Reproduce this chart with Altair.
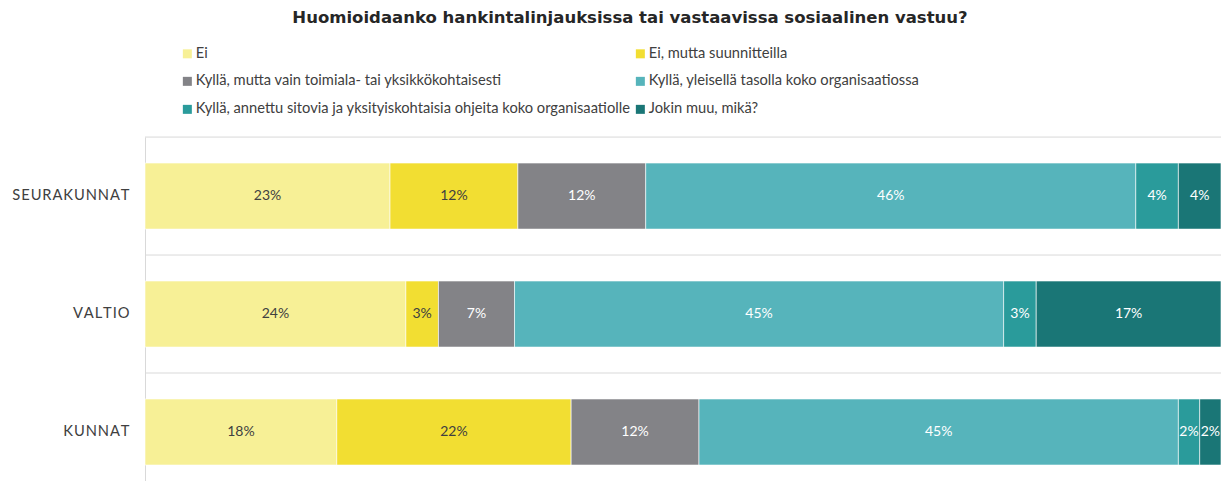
import altair as alt
import pandas as pd

title = "Huomioidaanko hankintalinjauksissa tai vastaavissa sosiaalinen vastuu?"
categories = ["SEURAKUNNAT", "VALTIO", "KUNNAT"]
series = [
    "Ei",
    "Ei, mutta suunnitteilla",
    "Kyllä, mutta vain toimiala- tai yksikkökohtaisesti",
    "Kyllä, yleisellä tasolla koko organisaatiossa",
    "Kyllä, annettu sitovia ja yksityiskohtaisia ohjeita koko organisaatiolle",
    "Jokin muu, mikä?",
]
colors = ["#F7F096", "#F2DE32", "#838387", "#56B4BB", "#2A9B9B", "#1A7676"]
values = {
    "SEURAKUNNAT": [23, 12, 12, 46, 4, 4],
    "VALTIO": [24, 3, 7, 45, 3, 17],
    "KUNNAT": [18, 22, 12, 45, 2, 2],
}

rows = []
for c in categories:
    for i, (s, v) in enumerate(zip(series, values[c])):
        rows.append({"category": c, "series": s, "value": v, "order": i})
df = pd.DataFrame(rows)
cat_df = pd.DataFrame({"category": categories})

# legend fills column-wise; reorder so that entries read row-wise (2 columns)
legend_idx = [0, 2, 4, 1, 3, 5]
legend_domain = [series[i] for i in legend_idx]
legend_range = [colors[i] for i in legend_idx]

W = 1076
H = 344

yscale = alt.Scale(domain=categories, paddingInner=0.44, paddingOuter=0.178, align=0.62)

base = alt.Chart(df).transform_stack(
    stack="value", groupby=["category"], as_=["x0", "x1"],
    sort=[alt.SortField("order")], offset="normalize"
).transform_calculate(
    mid="(datum.x0 + datum.x1) / 2",
    label="datum.value + '%'"
)

yenc = alt.Y(
    "category:N", sort=categories, scale=yscale, title=None,
    axis=alt.Axis(
        ticks=False, grid=False, domainColor="#d9d9d9", domainWidth=1,
        labelFont="Lato", labelFontSize=14.7, labelColor="#404040",
        labelPadding=16,
        labelExpr="join(split(datum.label, ''), '\u200a')",
    ),
)

bars = base.mark_bar(stroke="white", strokeWidth=0.6).encode(
    y=yenc,
    x=alt.X("x0:Q", scale=alt.Scale(domain=[0, 1], nice=False), axis=None),
    x2="x1:Q",
    color=alt.Color(
        "series:N",
        scale=alt.Scale(domain=legend_domain, range=legend_range),
        legend=alt.Legend(
            orient="none", legendX=35, legendY=-91, columns=2, title=None,
            symbolType="square", symbolSize=81, symbolStrokeWidth=0,
            labelFont="Lato", labelFontSize=14.7, labelColor="#404040",
            labelOffset=1, rowPadding=12, columnPadding=2, labelLimit=700,
        ),
    ),
)

texts = base.mark_text(font="Lato", fontSize=14).encode(
    y=alt.Y("category:N", sort=categories, scale=yscale),
    x=alt.X("mid:Q", scale=alt.Scale(domain=[0, 1], nice=False)),
    text="label:N",
    color=alt.condition("datum.order < 2", alt.value("#404040"), alt.value("white")),
)

grid = alt.Chart(cat_df).mark_rule(color="#d9d9d9", strokeWidth=1, yOffset=-59).encode(
    y=alt.Y("category:N", sort=categories, scale=yscale),
    x=alt.value(0),
    x2=alt.value(W),
)

chart = alt.layer(grid, bars, texts).properties(
    width=W, height=H,
    title=alt.TitleParams(
        title, font="DejaVu Sans", fontSize=16.5, fontWeight="bold",
        color="#262626", anchor="middle", dx=-53, offset=20,
    ),
    autosize=alt.AutoSizeParams(type="none"),
    padding={"left": 137, "top": 129, "right": 0, "bottom": 0},
).configure_view(stroke=None)

chart.save("out.html", embed_options={"renderer": "svg", "actions": False})
